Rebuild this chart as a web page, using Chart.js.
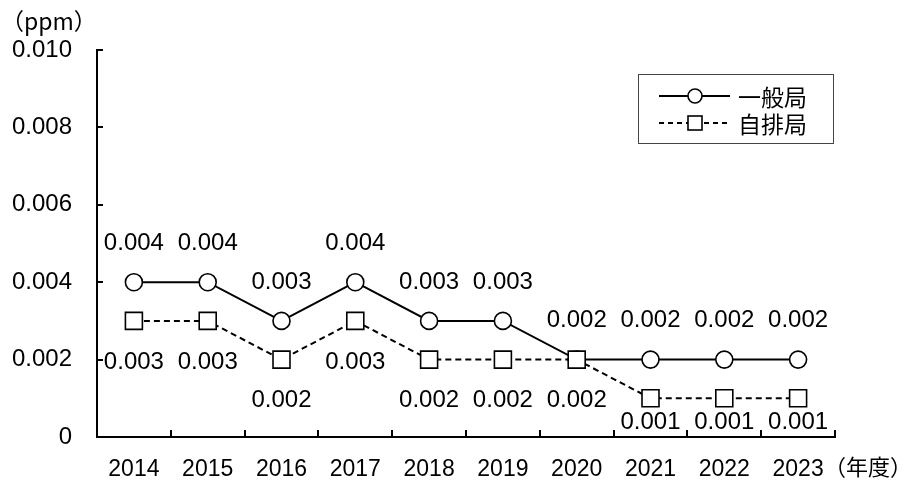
<!DOCTYPE html>
<html>
<head>
<meta charset="utf-8">
<script src="https://cdn.jsdelivr.net/npm/chart.js@4"></script>
<style>
  html, body { margin: 0; padding: 0; background: #fff; }
  #wrap { width: 914px; height: 489px; }
</style>
</head>
<body>
<div id="wrap"><canvas id="chart" width="914" height="489"></canvas></div>
<script>
const years = ["2014", "2015", "2016", "2017", "2018", "2019", "2020", "2021", "2022", "2023"];
const ippan = [0.004, 0.004, 0.003, 0.004, 0.003, 0.003, 0.002, 0.002, 0.002, 0.002];
const jihai = [0.003, 0.003, 0.002, 0.003, 0.002, 0.002, 0.002, 0.001, 0.001, 0.001];
const seriesNames = ["一般局", "自排局"];
const yTicks = [0, 0.002, 0.004, 0.006, 0.008, 0.010];

const FONT = "'Liberation Sans', Arial, sans-serif";
const JFONT = "'Noto Sans CJK JP', sans-serif";

// value labels, inward ticks, unit texts and legend
const extras = {
  id: "extras",
  afterDatasetsDraw(c) {
    const ctx = c.ctx;
    const bottom = c.chartArea.bottom;
    ctx.save();
    ctx.font = "24px " + FONT;
    ctx.textAlign = "center";
    ctx.textBaseline = "middle";
    c.data.datasets.forEach((ds, i) => {
      c.getDatasetMeta(i).data.forEach((pt, j) => {
        const txt = ds.data[j].toFixed(3);
        let y;
        if (i === 0) y = pt.y - 40;
        else y = pt.y + Math.min(40, bottom - pt.y - 16);
        const w = ctx.measureText(txt).width;
        ctx.fillStyle = "#fff";
        ctx.fillRect(pt.x - w / 2 - 1, y - 10, w + 2, 22);
        ctx.fillStyle = "#000";
        ctx.fillText(txt, pt.x, y + 1);
      });
    });
    ctx.restore();
  },
  afterDraw(c) {
    const ctx = c.ctx;
    const xs = c.scales.x, ys = c.scales.y;
    const a = c.chartArea;
    ctx.save();
    ctx.strokeStyle = "#000";
    ctx.lineWidth = 2;
    // y ticks pointing right
    yTicks.forEach(v => {
      const y = Math.round(ys.getPixelForValue(v));
      ctx.beginPath();
      ctx.moveTo(a.left, y);
      ctx.lineTo(a.left + 6, y);
      ctx.stroke();
    });
    // x ticks between categories, pointing up
    const step = xs.getPixelForValue(1) - xs.getPixelForValue(0);
    for (let i = 1; i <= years.length; i++) {
      const xx = i < years.length ? Math.round(xs.getPixelForValue(i - 1) + step / 2) : a.right;
      ctx.beginPath();
      ctx.moveTo(xx, a.bottom);
      ctx.lineTo(xx, a.bottom - 7);
      ctx.stroke();
    }
    // unit labels
    ctx.fillStyle = "#000";
    ctx.font = "23px " + JFONT;
    ctx.textBaseline = "middle";
    ctx.textAlign = "left";
    ctx.fillText("（ppm）", 1, 21);
    ctx.font = "22px " + JFONT;
    ctx.fillText("（年度）", 824, 467);

    // legend
    ctx.lineWidth = 1;
    ctx.strokeStyle = "#444";
    ctx.strokeRect(638.5, 74.5, 195, 69);
    const rows = [96, 123];
    rows.forEach((ry, i) => {
      ctx.strokeStyle = "#000";
      ctx.lineWidth = 2;
      ctx.setLineDash(i === 0 ? [] : [5, 4]);
      ctx.beginPath();
      ctx.moveTo(659, ry);
      ctx.lineTo(730, ry);
      ctx.stroke();
      ctx.setLineDash([]);
      ctx.fillStyle = "#fff";
      ctx.lineWidth = 1.6;
      if (i === 0) {
        ctx.beginPath();
        ctx.arc(695, ry, 7, 0, Math.PI * 2);
        ctx.fill();
        ctx.stroke();
      } else {
        ctx.fillRect(688, ry - 7, 14, 14);
        ctx.strokeRect(688, ry - 7, 14, 14);
      }
      ctx.fillStyle = "#000";
      ctx.font = "23px " + JFONT;
      ctx.fillText(seriesNames[i], 738, ry + 1);
    });
    ctx.restore();
  }
};

new Chart(document.getElementById("chart"), {
  type: "line",
  data: {
    labels: years,
    datasets: [
      {
        label: seriesNames[0],
        data: ippan,
        order: 1,
        borderColor: "#000",
        borderWidth: 2,
        pointStyle: "circle",
        pointRadius: 8.5,
        pointBorderWidth: 1.6,
        pointBackgroundColor: "#fff",
        pointBorderColor: "#000",
        tension: 0
      },
      {
        label: seriesNames[1],
        data: jihai,
        order: 0,
        borderColor: "#000",
        borderWidth: 2,
        borderDash: [6, 4],
        pointStyle: "rect",
        pointRadius: 12,
        pointBorderWidth: 1.6,
        pointBackgroundColor: "#fff",
        pointBorderColor: "#000",
        tension: 0
      }
    ]
  },
  options: {
    responsive: false,
    animation: false,
    layout: { padding: { top: 50, right: 79, left: 0, bottom: 0 } },
    plugins: {
      legend: { display: false },
      tooltip: { enabled: false }
    },
    scales: {
      x: {
        offset: true,
        grid: { display: false, drawTicks: false },
        border: { display: true, color: "#000", width: 2 },
        ticks: { color: "#000", font: { family: FONT, size: 23 }, padding: 19, maxRotation: 0 },
        afterFit(s) { s.height = 52; }
      },
      y: {
        min: 0,
        max: 0.01,
        grid: { display: false, drawTicks: false },
        border: { display: true, color: "#000", width: 2 },
        afterBuildTicks(s) { s.ticks = yTicks.map(v => ({ value: v })); },
        ticks: {
          color: "#000",
          font: { family: FONT, size: 24 },
          padding: 25,
          callback: v => v === 0 ? "0" : v.toFixed(3)
        },
        afterFit(s) { s.width = 97; }
      }
    }
  },
  plugins: [extras]
});
</script>
</body>
</html>
